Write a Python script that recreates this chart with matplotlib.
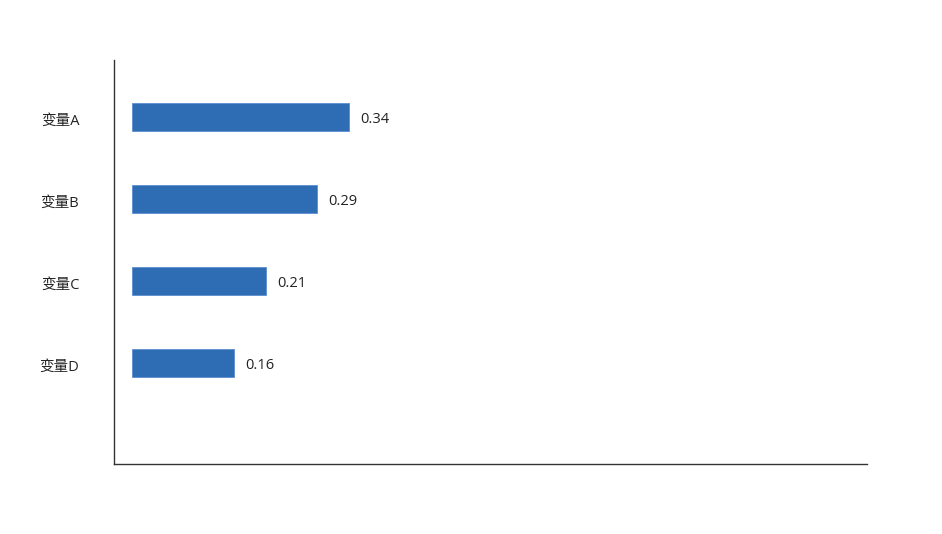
import matplotlib
matplotlib.use("Agg")
import matplotlib.pyplot as plt

plt.rcParams['font.family'] = ['Open Sans', 'Noto Sans CJK SC', 'DejaVu Sans']

categories = ["变量A", "变量B", "变量C", "变量D"]
values = [0.34, 0.29, 0.21, 0.16]
value_labels = ["0.34", "0.29", "0.21", "0.16"]

W, H = 942, 534
fig = plt.figure(figsize=(W / 100, H / 100), dpi=100)
ax = fig.add_axes([114 / W, 1 - 464 / H, (867 - 114) / W, (464 - 60) / H])

ypos = list(range(len(categories)))
ax.barh(ypos, values, height=0.34, color="#2E6DB4", edgecolor="#5b8fd0", linewidth=0.6)
for y, v, t in zip(ypos, values, value_labels):
    ax.text(v + 0.018, y + 0.03, t, va="center", ha="left", fontsize=10.5, color="#222222")

ax.set_yticks([y + 0.03 for y in ypos])
ax.set_yticklabels(categories, fontsize=10.5, color="#222222")
ax.tick_params(axis="y", length=0, pad=25)
ax.set_xticks([])
ax.set_xlim(-0.0282, 1.152)
ax.set_ylim(4.23, -0.695)

for s in ["top", "right"]:
    ax.spines[s].set_visible(False)
for s in ["left", "bottom"]:
    ax.spines[s].set_color("#333333")
    ax.spines[s].set_linewidth(1.0)

fig.savefig("out.png", dpi=100)
